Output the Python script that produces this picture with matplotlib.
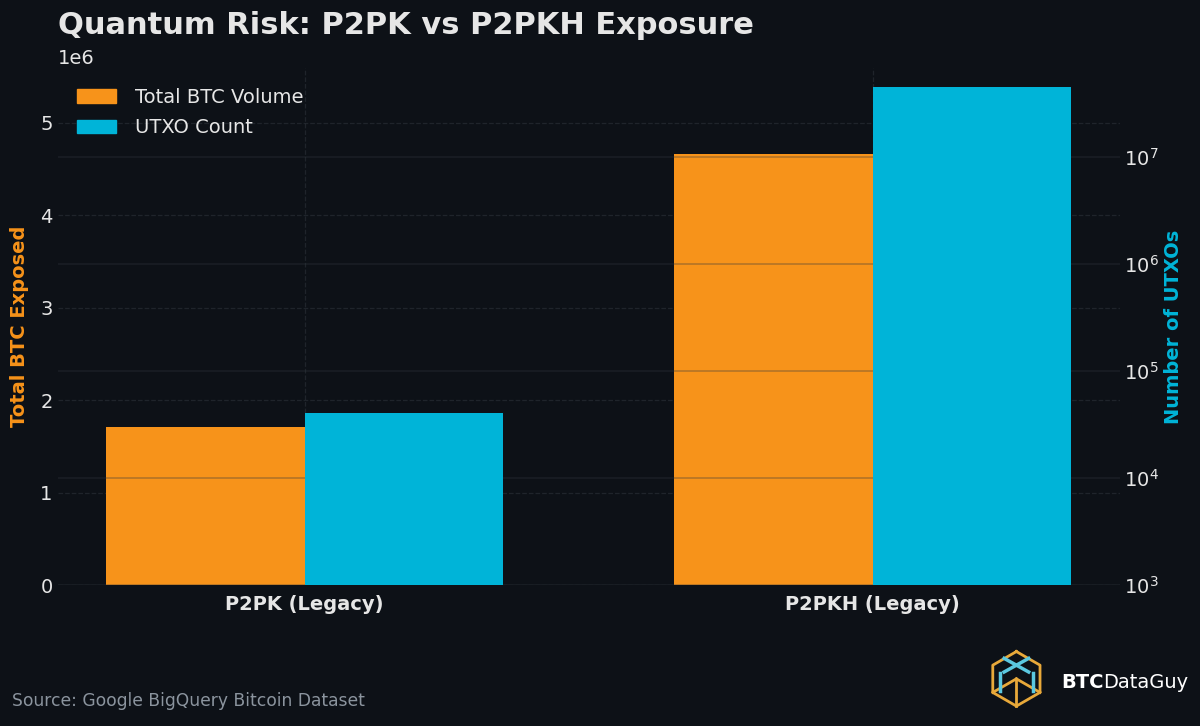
"""Quantum risk chart: BTC volume (linear, left) and UTXO count (log, right)
for P2PK vs P2PKH outputs. Writes out.png."""
import matplotlib
matplotlib.use("Agg")
import matplotlib.pyplot as plt
import numpy as np
from matplotlib.patches import Patch

BG = "#0d1117"
ORANGE = "#f7931a"
CYAN = "#00b4d8"
TXT = "#e6e6e6"

categories = ["P2PK (Legacy)", "P2PKH (Legacy)"]
btc_volume = [1.71e6, 4.66e6]
utxo_count = [41_000, 45_000_000]
right_ticks = [1e3, 1e4, 1e5, 1e6, 1e7]


def main():
    fig = plt.figure(figsize=(12, 7.26), dpi=100, facecolor=BG)
    ax1 = fig.add_axes([0.048, 0.194, 0.885, 0.712])
    ax1.set_facecolor(BG)
    ax2 = ax1.twinx()

    x = np.arange(len(categories))
    w = 0.35
    ax1.bar(x - w / 2, btc_volume, w, color=ORANGE, zorder=2)
    ax2.bar(x + w / 2, utxo_count, w, color=CYAN, zorder=2)

    ax1.set_ylim(0, max(btc_volume) * 1.2)
    ax2.set_yscale("log")
    ax2.set_ylim(1e3, max(utxo_count) * 1.5)
    ax2.set_yticks(right_ticks)
    ax2.yaxis.set_minor_locator(matplotlib.ticker.NullLocator())

    ax1.set_xticks(x)
    ax1.set_xticklabels(categories, fontsize=14.5, fontweight="bold", color=TXT)
    ax1.set_axisbelow(True)
    ax1.grid(True, linestyle="--", color="#8b949e", alpha=0.15, linewidth=0.9)
    ax2.grid(True, axis="y", color="#30363d", alpha=0.35, linewidth=1.2, zorder=0)

    ax1.set_ylabel("Total BTC Exposed", color=ORANGE, fontsize=14, fontweight="bold",
                   labelpad=8)
    ax2.set_ylabel("Number of UTXOs", color=CYAN, fontsize=14, fontweight="bold")

    for ax in (ax1, ax2):
        for sp in ax.spines.values():
            sp.set_visible(False)
        ax.tick_params(length=0, labelsize=14, colors=TXT)
    ax1.tick_params(axis="x", pad=7)
    ax2.tick_params(axis="y", pad=3)
    ax1.yaxis.get_offset_text().set_fontsize(14)
    ax1.yaxis.get_offset_text().set_color(TXT)

    ax1.set_title("Quantum Risk: P2PK vs P2PKH Exposure", loc="left", fontsize=22,
                  fontweight="bold", color=TXT, x=0.0, pad=25)

    handles = [Patch(color=ORANGE, label="Total BTC Volume"),
               Patch(color=CYAN, label="UTXO Count")]
    leg = ax2.legend(handles=handles, loc="upper left", frameon=False, fontsize=14,
                     handlelength=2.0, handletextpad=1.0, labelspacing=0.6,
                     borderaxespad=0.6)
    for t in leg.get_texts():
        t.set_color(TXT)

    fig.text(0.01, 0.035, "Source: Google BigQuery Bitcoin Dataset", color="#8b949e",
             fontsize=12.3, va="center")

    # logo: rough cube mark + wordmark
    lax = fig.add_axes([0.822, 0.02, 0.05, 0.09])
    lax.set_xlim(-1.1, 1.1)
    lax.set_ylim(-1.15, 1.15)
    lax.set_aspect("equal")
    lax.axis("off")
    ang = np.deg2rad(np.arange(90, 450, 60))
    hx, hy = np.cos(ang), np.sin(ang)
    lax.plot(np.append(hx, hx[0]), np.append(hy, hy[0]), color="#e8a93a", lw=2)
    lax.plot([0, 0], [0, -1], color="#e8a93a", lw=2)
    lax.plot([0, hx[2]], [0, hy[2]], color="#e8a93a", lw=2)
    lax.plot([0, hx[4]], [0, hy[4]], color="#e8a93a", lw=2)
    lax.plot([-0.45, 0.45], [0.75, 0.25], color="#5bc8e0", lw=2.5)
    lax.plot([0.45, -0.45], [0.75, 0.25], color="#5bc8e0", lw=2.5)
    lax.plot([-0.6, -0.6], [0.2, -0.45], color="#5bc8e0", lw=2.5)
    lax.plot([0.6, 0.6], [0.2, -0.45], color="#5bc8e0", lw=2.5)

    t1 = fig.text(0.884, 0.06, "BTC", color="white", fontsize=14, fontweight="bold",
                  va="center")
    ax1.annotate("DataGuy", xy=(1, 0.5), xycoords=t1, color="white", fontsize=14,
                 va="center", ha="left", annotation_clip=False)

    fig.savefig("out.png", dpi=100, facecolor=BG)


if __name__ == "__main__":
    main()
